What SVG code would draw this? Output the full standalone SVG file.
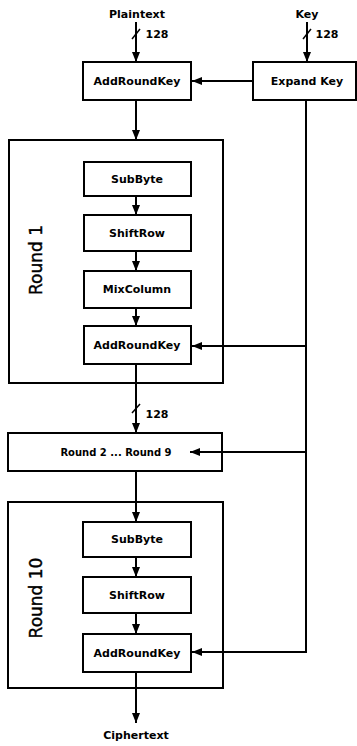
<svg xmlns="http://www.w3.org/2000/svg" width="357" height="746" viewBox="0 0 357 746">
<style>
.box{fill:#fff;stroke:#000;stroke-width:2}
.frame{fill:none;stroke:#000;stroke-width:2}
.t{font-family:"DejaVu Sans",sans-serif;font-weight:bold;font-size:11px;text-anchor:middle;fill:#000}
.s{font-size:10px}
.big{font-family:"DejaVu Sans",sans-serif;font-size:17px;text-anchor:middle;fill:#000;stroke:#000;stroke-width:0.4}
.ln{fill:none;stroke:#000;stroke-width:2}
.tk{fill:none;stroke:#000;stroke-width:1.5}
</style>
<defs>
<marker id="ah" viewBox="0 0 10 8" refX="10" refY="4" markerWidth="10" markerHeight="8" markerUnits="userSpaceOnUse" orient="auto">
<path d="M0,0 L10,4 L0,8 Z" fill="#000"/>
</marker>
</defs>
<g id="labels">
<text class="t" x="137" y="18">Plaintext</text>
<text class="t" x="307" y="18">Key</text>
<text class="t" x="157" y="38">128</text>
<text class="t" x="327" y="38">128</text>
<text class="t" x="157" y="418">128</text>
<text class="t" x="136" y="739">Ciphertext</text>
</g>
<g id="ark0"><rect class="box" x="83" y="62" width="108" height="38"/><text class="t" x="137" y="85">AddRoundKey</text></g>
<g id="expand"><rect class="box" x="253" y="62" width="103" height="38"/><text class="t" x="307" y="85">Expand Key</text></g>
<g id="round1"><rect class="frame" x="9" y="140" width="214" height="243"/><text class="big" transform="translate(42,260) rotate(-90)">Round 1</text></g>
<g id="sub1"><rect class="box" x="84" y="162" width="107" height="34"/><text class="t" x="137" y="183">SubByte</text></g>
<g id="shift1"><rect class="box" x="84" y="215" width="107" height="36"/><text class="t" x="137" y="237">ShiftRow</text></g>
<g id="mix1"><rect class="box" x="84" y="271" width="107" height="37"/><text class="t" x="137" y="293">MixColumn</text></g>
<g id="ark1"><rect class="box" x="84" y="326" width="107" height="38"/><text class="t" x="137" y="349">AddRoundKey</text></g>
<g id="round29"><rect class="box" x="8" y="433" width="214" height="38"/><text class="t s" x="116" y="456">Round 2 ... Round 9</text></g>
<g id="round10"><rect class="frame" x="8" y="502" width="215" height="186"/><text class="big" transform="translate(42,598) rotate(-90)">Round 10</text></g>
<g id="sub10"><rect class="box" x="83" y="522" width="108" height="35"/><text class="t" x="137" y="543">SubByte</text></g>
<g id="shift10"><rect class="box" x="83" y="577" width="108" height="36"/><text class="t" x="137" y="599">ShiftRow</text></g>
<g id="ark10"><rect class="box" x="83" y="634" width="108" height="38"/><text class="t" x="137" y="657">AddRoundKey</text></g>
<g id="connectors">
<line class="ln" x1="136" y1="22" x2="136" y2="62" marker-end="url(#ah)"/>
<line class="ln" x1="307" y1="22" x2="307" y2="62" marker-end="url(#ah)"/>
<line class="tk" x1="132" y1="39" x2="140" y2="29"/>
<line class="tk" x1="303" y1="39" x2="311" y2="29"/>
<line class="ln" x1="253" y1="81" x2="192" y2="81" marker-end="url(#ah)"/>
<line class="ln" x1="136" y1="100" x2="136" y2="140" marker-end="url(#ah)"/>
<polyline class="ln" points="306,100 306,652 192,652" marker-end="url(#ah)"/>
<line class="ln" x1="306" y1="346" x2="192" y2="346" marker-end="url(#ah)"/>
<line class="ln" x1="306" y1="452" x2="190" y2="452" marker-end="url(#ah)"/>
<line class="ln" x1="136" y1="196" x2="136" y2="215" marker-end="url(#ah)"/>
<line class="ln" x1="136" y1="251" x2="136" y2="271" marker-end="url(#ah)"/>
<line class="ln" x1="136" y1="308" x2="136" y2="326" marker-end="url(#ah)"/>
<line class="ln" x1="136" y1="364" x2="136" y2="433" marker-end="url(#ah)"/>
<line class="tk" x1="132" y1="413" x2="140" y2="404"/>
<line class="ln" x1="136" y1="471" x2="136" y2="522" marker-end="url(#ah)"/>
<line class="ln" x1="136" y1="557" x2="136" y2="577" marker-end="url(#ah)"/>
<line class="ln" x1="136" y1="613" x2="136" y2="634" marker-end="url(#ah)"/>
<line class="ln" x1="136" y1="672" x2="136" y2="723" marker-end="url(#ah)"/>
</g>
</svg>
